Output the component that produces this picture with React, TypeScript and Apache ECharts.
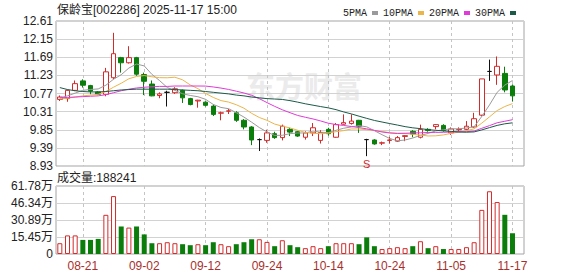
import { useEffect, useRef } from 'react';
import * as echarts from 'echarts';

// Trading sessions shown on the chart
const dates = [
  '08-18', '08-19', '08-20', '08-21', '08-22', '08-25', '08-26', '08-27', '08-28', '08-29',
  '09-01', '09-02', '09-03', '09-04', '09-05', '09-08', '09-09', '09-10', '09-11', '09-12',
  '09-15', '09-16', '09-17', '09-18', '09-19', '09-22', '09-23', '09-24', '09-25', '09-26',
  '09-29', '09-30', '10-09', '10-10', '10-13', '10-14', '10-15', '10-16', '10-17', '10-20',
  '10-21', '10-22', '10-23', '10-24', '10-27', '10-28', '10-29', '10-30', '10-31', '11-03',
  '11-04', '11-05', '11-06', '11-07', '11-10', '11-11', '11-12', '11-13', '11-14', '11-17',
];

// Dates that carry an x label and a vertical guide line
const tickDates = ['08-21', '09-02', '09-12', '09-24', '10-14', '10-24', '11-05', '11-17'];

const opens = [
  10.62, 10.64, 10.85, 11.09, 10.97, 10.81, 10.75, 11.17, 11.68, 11.55,
  11.68, 11.25, 11.01, 10.72, 10.80, 10.79, 10.85, 10.64, 10.58, 10.55,
  10.45, 10.27, 10.32, 10.28, 10.09, 9.92, 9.60, 9.58, 9.75, 9.65,
  9.86, 9.80, 9.66, 9.77, 9.58, 9.86, 9.66, 9.99, 10.01, 10.09,
  9.60, 9.59, 9.51, 9.58, 9.56, 9.68, 9.81, 9.66, 9.86, 9.93,
  9.96, 9.77, 9.85, 9.86, 9.92, 10.22, 11.33, 11.24, 11.28, 10.96,
];
const closes = [
  10.68, 10.85, 11.02, 10.98, 10.83, 10.75, 11.32, 11.78, 11.55, 11.68,
  11.26, 11.08, 10.71, 10.76, 10.80, 10.89, 10.66, 10.49, 10.60, 10.47,
  10.24, 10.28, 10.33, 10.09, 9.92, 9.59, 9.60, 9.77, 9.65, 9.94,
  9.79, 9.69, 9.77, 9.90, 9.78, 9.75, 9.98, 10.03, 10.07, 9.94,
  9.60, 9.49, 9.52, 9.59, 9.65, 9.70, 9.74, 9.86, 9.83, 9.98,
  9.83, 9.87, 9.86, 9.94, 10.13, 11.14, 11.33, 11.46, 10.86, 10.71,
];
const lows = [
  10.58, 10.56, 10.83, 10.92, 10.75, 10.73, 10.70, 11.13, 11.30, 11.53,
  11.22, 10.73, 10.70, 10.65, 10.44, 10.76, 10.53, 10.47, 10.41, 10.44,
  10.20, 10.09, 10.25, 10.05, 9.86, 9.46, 9.31, 9.52, 9.62, 9.58,
  9.69, 9.67, 9.60, 9.69, 9.50, 9.70, 9.65, 9.98, 9.98, 9.77,
  9.18, 9.47, 9.46, 9.50, 9.54, 9.56, 9.66, 9.63, 9.80, 9.86,
  9.80, 9.72, 9.80, 9.84, 9.90, 10.19, 11.09, 10.99, 10.80, 10.57,
];
const highs = [
  10.72, 10.87, 11.10, 11.13, 10.99, 10.83, 11.42, 12.31, 11.70, 11.97,
  11.70, 11.30, 11.10, 10.80, 10.84, 10.93, 10.87, 10.66, 10.61, 10.57,
  10.49, 10.31, 10.38, 10.32, 10.12, 9.94, 9.63, 9.85, 9.80, 9.98,
  9.90, 9.82, 9.81, 10.02, 9.84, 9.90, 10.02, 10.24, 10.24, 10.10,
  9.62, 9.61, 9.55, 9.67, 9.69, 9.71, 9.84, 9.98, 9.89, 9.99,
  9.99, 9.91, 9.91, 10.07, 10.28, 11.14, 11.63, 11.71, 11.45, 11.00,
];

// Volume in shares (hands)
const volumes = [
  98000, 169000, 169000, 128000, 128000, 137000, 356000, 526000, 250000, 240000,
  250000, 178000, 98000, 98000, 107000, 98000, 89000, 80000, 89000, 80000,
  107000, 89000, 71000, 89000, 107000, 134000, 134000, 110000, 71000, 125000,
  80000, 62000, 53000, 71000, 53000, 71000, 98000, 98000, 98000, 89000,
  151000, 71000, 45000, 53000, 62000, 53000, 71000, 116000, 53000, 71000,
  45000, 45000, 45000, 62000, 107000, 401000, 570000, 472000, 356000, 188241,
];

// Average values for sessions whose window starts before the first date shown
const ma5Lead = [10.66, 10.71, 10.78, 10.85];
const ma10Lead = [10.63, 10.65, 10.68, 10.71, 10.73, 10.75, 10.82, 10.93, 11.03];
const ma20Lead = [
  10.66, 10.67, 10.68, 10.69, 10.70, 10.71, 10.74, 10.79, 10.84, 10.88,
  10.91, 10.93, 10.94, 10.95, 10.95, 10.96, 10.96, 10.96, 10.96,
];
const ma30Lead = [
  10.92, 10.87, 10.84, 10.82, 10.81, 10.81, 10.82, 10.84, 10.86, 10.87,
  10.88, 10.88, 10.88, 10.88, 10.88, 10.87, 10.86, 10.85, 10.84, 10.82,
  10.80, 10.78, 10.76, 10.73, 10.71, 10.68, 10.66, 10.64, 10.63,
];

// Price axis ticks
const priceMin = 8.93;
const priceMax = 12.61;
const priceStep = 0.46;
// Volume axis ticks
const volumeMax = 617800;
const volumeStep = 154450;

const signalDate = '10-21';
const signalText = 'S';

const UP = '#d42a2a';
const DOWN = '#0b7d0b';
const SANS = "'Liberation Sans', 'Noto Sans CJK SC', sans-serif";
const MONO = "'Liberation Mono', monospace";

const maSeries = [
  { name: '5PMA', n: 5, lead: ma5Lead, color: '#9a9a9a' },
  { name: '10PMA', n: 10, lead: ma10Lead, color: '#eab54a' },
  { name: '20PMA', n: 20, lead: ma20Lead, color: '#e03ad8' },
  { name: '30PMA', n: 30, lead: ma30Lead, color: '#1c5a48' },
];

function movingAverage(n: number, lead: number[]) {
  return closes.map((_, i) => {
    if (i < n - 1) return lead[i];
    let s = 0;
    for (let k = i - n + 1; k <= i; k++) s += closes[k];
    return +(s / n).toFixed(3);
  });
}

// Same rise/fall rule as the candles: close vs open, ties settled by the previous close
function isUp(i: number) {
  if (closes[i] > opens[i]) return true;
  if (closes[i] < opens[i]) return false;
  return i === 0 || closes[i - 1] <= closes[i];
}

// One spare slot on the right edge of the plot
const categories = [...dates, ''];
const isTick = (_: number, value: string) => tickDates.includes(value);

function buildOption() {
  const candles = dates.map((_, i) => [opens[i], closes[i], lows[i], highs[i]]);
  const volumeItems = volumes.map((v, i) => {
    const up = isUp(i);
    return {
      value: v,
      itemStyle: up
        ? { color: '#ffffff', borderColor: UP, borderWidth: 1 }
        : { color: DOWN, borderColor: DOWN, borderWidth: 0 },
    };
  });
  const signalIdx = dates.indexOf(signalDate);

  const xBase = {
    type: 'category',
    data: categories,
    boundaryGap: true,
    axisLine: { show: false },
    axisTick: { show: false },
    splitLine: {
      show: true,
      interval: isTick,
      alignWithLabel: true,
      lineStyle: { color: '#c4c4c4', type: [3, 3], width: 1 },
    },
  };

  return {
    animation: false,
    backgroundColor: '#ffffff',
    textStyle: { fontFamily: SANS },
    legend: {
      left: 338,
      top: 3,
      align: 'right',
      icon: 'rect',
      itemWidth: 6,
      itemHeight: 4,
      itemGap: 5,
      selectedMode: false,
      data: maSeries.map((m) => m.name),
      textStyle: { fontFamily: MONO, fontSize: 10, color: '#222' },
    },
    grid: [
      { left: 56, top: 21, width: 468, height: 145, show: true, borderColor: '#a4a4a4', borderWidth: 1 },
      { left: 56, top: 186, width: 468, height: 68, show: true, borderColor: '#a4a4a4', borderWidth: 1 },
    ],
    xAxis: [
      { ...xBase, gridIndex: 0, axisLabel: { show: false } },
      {
        ...xBase,
        gridIndex: 1,
        axisLabel: {
          show: true,
          interval: isTick,
          margin: 6,
          fontSize: 12,
          color: '#a8302c',
          fontFamily: SANS,
        },
      },
    ],
    yAxis: [
      {
        type: 'value',
        gridIndex: 0,
        min: priceMin,
        max: priceMax,
        interval: priceStep,
        axisLine: { show: false },
        axisTick: { show: false },
        axisLabel: {
          margin: 3,
          fontSize: 12,
          color: '#222',
          fontFamily: SANS,
          formatter: (v: number) => v.toFixed(2),
        },
        splitLine: { show: true, lineStyle: { color: '#d2d2d2', width: 1 } },
      },
      {
        type: 'value',
        gridIndex: 1,
        min: 0,
        max: volumeMax,
        interval: volumeStep,
        axisLine: { show: false },
        axisTick: { show: false },
        axisLabel: {
          margin: 3,
          fontSize: 12,
          color: '#222',
          fontFamily: SANS,
          formatter: (v: number) => (v === 0 ? '0' : (Math.round(v / 100) / 100).toFixed(2) + '万'),
        },
        splitLine: { show: true, lineStyle: { color: '#d2d2d2', width: 1 } },
      },
    ],
    graphic: [
      {
        type: 'text',
        x: 246,
        y: 85,
        z: 0,
        silent: true,
        style: {
          text: '东方财富',
          fontSize: 29,
          fontWeight: 'bold',
          fontFamily: "'Noto Sans CJK SC', sans-serif",
          fill: '#ebebeb',
          verticalAlign: 'middle',
        },
      },
      {
        type: 'text',
        x: 57,
        y: 10,
        style: {
          text: '保龄宝[002286] 2025-11-17 15:00',
          fontSize: 12,
          fontFamily: SANS,
          fill: '#222',
          verticalAlign: 'middle',
        },
      },
      {
        type: 'text',
        x: 57,
        y: 178,
        style: {
          text: `成交量:${volumes[volumes.length - 1]}`,
          fontSize: 12,
          fontFamily: SANS,
          fill: '#222',
          verticalAlign: 'middle',
        },
      },
    ],
    series: [
      {
        name: 'K',
        type: 'candlestick',
        xAxisIndex: 0,
        yAxisIndex: 0,
        barWidth: 5,
        data: candles,
        itemStyle: {
          color: '#ffffff',
          color0: DOWN,
          borderColor: UP,
          borderColor0: DOWN,
          borderColorDoji: '#111111',
          borderWidth: 1,
        },
        markPoint: {
          symbol: 'circle',
          symbolSize: 0,
          silent: true,
          label: {
            show: true,
            position: 'bottom',
            distance: 2,
            formatter: signalText,
            color: UP,
            fontSize: 11,
            fontFamily: SANS,
          },
          data: [{ coord: [signalDate, lows[signalIdx]] }],
        },
      },
      ...maSeries.map((m) => ({
        name: m.name,
        type: 'line',
        xAxisIndex: 0,
        yAxisIndex: 0,
        data: movingAverage(m.n, m.lead),
        symbol: 'none',
        showSymbol: false,
        color: m.color,
        lineStyle: { color: m.color, width: 1 },
        z: 3,
      })),
      {
        name: '成交量',
        type: 'bar',
        xAxisIndex: 1,
        yAxisIndex: 1,
        barWidth: 5,
        data: volumeItems,
      },
    ],
  };
}

export default function App() {
  const ref = useRef<HTMLDivElement>(null);
  useEffect(() => {
    if (!ref.current) return;
    const chart = echarts.init(ref.current, null, { renderer: 'svg' });
    chart.setOption(buildOption() as any);
    return () => chart.dispose();
  }, []);
  return (
    <div
      ref={ref}
      style={{ position: 'fixed', left: 0, top: 0, width: 578, height: 276, background: '#fff' }}
    />
  );
}
